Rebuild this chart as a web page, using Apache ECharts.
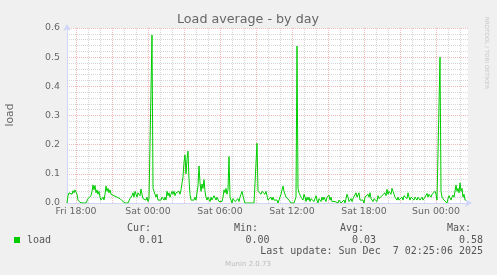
<!DOCTYPE html>
<html><head><meta charset="utf-8">
<script src="https://cdn.jsdelivr.net/npm/echarts@6/dist/echarts.min.js"></script>
<style>html,body{margin:0;padding:0;background:#f0f0f0}#c{width:497px;height:275px}</style>
</head><body><div id="c"></div>
<script>
const chartTitle = 'Load average - by day';
const seriesName = 'load';
const yAxisName = 'load';
// sample times: hours relative to Sat 00:00, 5-minute steps
const startHour = -6.75;
const stepHours = 5 / 60;
const loadValues = [
  0.0, 0.025, 0.035, 0.03, 0.038, 0.03, 0.042, 0.035, 0.045, 0.04, 0.03, 0.01, 0.005,
  0.002, 0.0, 0.0, 0.0, 0.0, 0.0, 0.0, 0.005,
  0.015, 0.02, 0.018, 0.025, 0.04,
  0.062, 0.045, 0.06, 0.035,
  0.045, 0.03, 0.04, 0.02,
  0.01, 0.015, 0.02, 0.01, 0.03,
  0.058, 0.04, 0.05, 0.035, 0.045,
  0.03, 0.035, 0.03, 0.025, 0.02,
  0.025, 0.02, 0.015, 0.02, 0.015,
  0.01, 0.008, 0.005, 0.002, 0.0,
  0.0, 0.0, 0.0, 0.005, 0.015,
  0.01, 0.025, 0.035, 0.02, 0.04,
  0.03, 0.02, 0.035, 0.04, 0.025,
  0.048, 0.03, 0.015, 0.01, 0.02,
  0.01, 0.02, 0.005, 0.015, 0.02,
  0.02, 0.576,
  0.05, 0.04, 0.035, 0.02, 0.03,
  0.01, 0.005, 0.015, 0.01, 0.02,
  0.015, 0.01, 0.02, 0.01, 0.04,
  0.025, 0.035, 0.02, 0.03, 0.04,
  0.03, 0.04, 0.025, 0.035, 0.03,
  0.035, 0.04, 0.03, 0.045,
  0.05, 0.09, 0.14, 0.165, 0.1, 0.15, 0.178, 0.08, 0.03, 0.01,
  0.005, 0.015, 0.01, 0.02, 0.01, 0.015,
  0.06, 0.127, 0.07, 0.04, 0.065, 0.05, 0.08, 0.04, 0.02,
  0.01, 0.02, 0.015, 0.005, 0.02, 0.01,
  0.015, 0.025, 0.02, 0.01, 0.02, 0.015, 0.005,
  0.0, 0.01, 0.005, 0.02,
  0.045, 0.035, 0.05, 0.03, 0.045,
  0.159, 0.02,
  0.01, 0.0, 0.015, 0.02, 0.005, 0.01,
  0.0, 0.015, 0.005, 0.02, 0.03,
  0.04, 0.035, 0.01,
  0, 0, 0, 0, 0, 0, 0, 0, 0, 0, 0, 0,
  0.205,
  0.04, 0.035, 0.045, 0.03, 0.04,
  0.035, 0.045, 0.03, 0.04, 0.025,
  0.01, 0.015, 0.005, 0.02, 0.01,
  0.02, 0.01, 0.015, 0.005, 0.01,
  0.0, 0.01, 0.02, 0.03, 0.045,
  0.058, 0.04, 0.035, 0.02, 0.025,
  0.015, 0.01, 0.005, 0.0, 0.0,
  0.0, 0.0, 0.01, 0.02,
  0.538,
  0.05, 0.035, 0.04, 0.02, 0.025,
  0.01, 0.03, 0.02, 0.005, 0.02,
  0.01, 0.02, 0.005, 0.015, 0.01,
  0.02, 0.005, 0.015, 0.025, 0.01,
  0.0, 0.015, 0.02, 0.005, 0.02,
  0.01, 0.02, 0.015, 0.005, 0.02,
  0.015, 0.027, 0.01, 0.02, 0.005,
  0.01, 0.0, 0.005, 0.01, 0.0,
  0.0, 0.01, 0.005, 0.0, 0.0,
  0.005, 0.01, 0.0, 0.015, 0.03,
  0.02, 0.005, 0.01, 0.015, 0.005,
  0.015, 0.02, 0.01, 0.035, 0.02,
  0.025, 0.035, 0.01, 0.005, 0.015,
  0.01, 0.0, 0.02, 0.025, 0.015,
  0.03, 0.02, 0.035, 0.015, 0.01,
  0.005, 0.015, 0.01, 0.02, 0.005,
  0.025, 0.015, 0.02, 0.01, 0.025,
  0.02, 0.03, 0.035, 0.025, 0.047,
  0.03, 0.04, 0.035, 0.03, 0.05,
  0.04, 0.035, 0.02, 0.015, 0.01,
  0.02, 0.01, 0.005, 0.015, 0.02,
  0.01, 0.025, 0.02, 0.03, 0.015,
  0.035, 0.02, 0.01, 0.02, 0.015,
  0.025, 0.01, 0.02, 0.015, 0.01,
  0.02, 0.025, 0.01, 0.015, 0.02,
  0.01, 0.015, 0.02, 0.025, 0.033,
  0.02, 0.03, 0.025, 0.02, 0.03,
  0.025, 0.035, 0.04, 0.03, 0.01,
  0.01, 0.005, 0.50,
  0.04, 0.02, 0.025, 0.01, 0.005,
  0.01, 0.0, 0.015, 0.025, 0.02,
  0.01, 0.02, 0.027, 0.02, 0.025,
  0.062, 0.04, 0.05, 0.035, 0.069,
  0.04, 0.05, 0.02, 0.03, 0.01, 0.01
];
const xTickHours = [-6, 0, 6, 12, 18, 24];
const xTickLabels = ['Fri 18:00', 'Sat 00:00', 'Sat 06:00', 'Sat 12:00', 'Sat 18:00', 'Sun 00:00'];
const yMin = 0, yMax = 0.6, yMinorStep = 0.02;
const statNames = ['Cur:', 'Min:', 'Avg:', 'Max:'];
const statValues = ['0.01', '0.00', '0.03', '0.58'];
const lastUpdate = 'Last update: Sun Dec  7 02:25:06 2025';
const versionText = 'Munin 2.0.73';
const watermark = 'RRDTOOL / TOBI OETIKER';

const FONT = 'DejaVu Sans';
const TXT = '#666666';
const RED = '#f5b8b8';
const GREY = '#d6d6d6';
const NONE = 'rgba(0,0,0,0)';
const AXIS = '#cfd6f8';

const xMax = startHour + (loadValues.length + 1) * stepHours;
const data = loadValues.map((v, i) => [startHour + i * stepHours, v]);

const chart = echarts.init(document.getElementById('c'), null, {renderer: 'canvas'});

const statX = [127, 234, 340, 447];
const valRight = [163, 269.5, 376, 483];
const graphics = [
  {type: 'text', x: 248, y: 19.5, style: {text: chartTitle, font: '12.7px "DejaVu Sans"', fill: TXT, textAlign: 'center', textVerticalAlign: 'middle'}},
  {type: 'text', x: 10, y: 115, rotation: Math.PI / 2, style: {text: yAxisName, font: '10.7px "DejaVu Sans"', fill: TXT, textAlign: 'center', textVerticalAlign: 'middle'}},
  {type: 'text', x: 486, y: 53, rotation: -Math.PI / 2, style: {text: watermark, font: '5.6px "DejaVu Sans"', fill: '#c8c8c8', textAlign: 'center', textVerticalAlign: 'middle'}},
  {type: 'rect', shape: {x: 14, y: 237, width: 6, height: 6}, style: {fill: '#00cc00'}},
  {type: 'text', x: 27, y: 240, style: {text: seriesName, font: '10px "DejaVu Sans Mono"', fill: '#555', textAlign: 'left', textVerticalAlign: 'middle'}},
  {type: 'text', x: 483, y: 251.5, style: {text: lastUpdate, font: '10px "DejaVu Sans Mono"', fill: '#555', textAlign: 'right', textVerticalAlign: 'middle'}},
  {type: 'text', x: 248, y: 264.5, style: {text: versionText, font: '7px "DejaVu Sans"', fill: '#bbbbbb', textAlign: 'center', textVerticalAlign: 'middle'}}
];
statNames.forEach((s, k) => {
  graphics.push({type: 'text', x: statX[k], y: 228.5, style: {text: s, font: '10px "DejaVu Sans Mono"', fill: '#555', textAlign: 'left', textVerticalAlign: 'middle'}});
  graphics.push({type: 'text', x: valRight[k], y: 240, style: {text: statValues[k], font: '10px "DejaVu Sans Mono"', fill: '#555', textAlign: 'right', textVerticalAlign: 'middle'}});
});

const xLineColors = [NONE, NONE, NONE, RED, NONE, NONE, NONE, GREY, NONE, NONE, NONE, GREY];
const yLineColors = [RED, GREY, GREY, GREY, GREY];

chart.setOption({
  animation: false,
  backgroundColor: '#f0f0f0',
  grid: {left: 67, right: 29, top: 28, bottom: 72, show: true, backgroundColor: '#ffffff', borderWidth: 0},
  xAxis: {
    type: 'value', min: startHour, max: xMax, interval: 0.25,
    axisLine: {show: true, onZero: false, lineStyle: {color: AXIS, width: 1}, symbol: ['none', 'arrow'], symbolSize: [6, 7], symbolOffset: [0, 4]},
    axisTick: {show: false},
    splitLine: {show: true, lineStyle: {color: xLineColors, type: [1, 1], width: 1}},
    axisLabel: {
      margin: 4, fontFamily: FONT, fontSize: 9.4, color: TXT, showMinLabel: true, showMaxLabel: true,
      formatter: v => {
        const k = xTickHours.findIndex(h => Math.abs(h - v) < 1e-6);
        return k >= 0 ? xTickLabels[k] : '';
      }
    }
  },
  yAxis: {
    type: 'value', min: yMin, max: yMax, interval: yMinorStep,
    axisLine: {show: true, onZero: false, lineStyle: {color: AXIS, width: 1}, symbol: ['none', 'arrow'], symbolSize: [6, 7], symbolOffset: [0, 4]},
    axisTick: {show: false},
    splitLine: {show: true, lineStyle: {color: yLineColors, type: [1, 1], width: 1}},
    axisLabel: {
      margin: 7, fontFamily: FONT, fontSize: 9.4, color: TXT,
      formatter: v => Math.abs(v * 10 - Math.round(v * 10)) < 1e-6 ? v.toFixed(1) : ''
    }
  },
  series: [{
    name: seriesName, type: 'line', data: data, showSymbol: false, symbol: 'none',
    lineStyle: {color: '#00cc00', width: 1}, z: 5
  }],
  graphic: graphics
});
</script>
</body></html>
